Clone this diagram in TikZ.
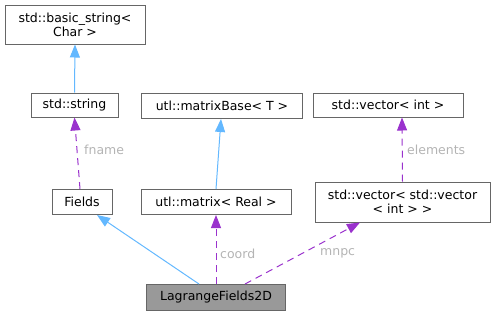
\documentclass[tikz,border=0pt]{standalone}
\usepackage{fontspec}
\setmainfont{DejaVu Sans}
\usetikzlibrary{arrows.meta}
\definecolor{boxborder}{HTML}{666666}
\definecolor{inh}{HTML}{63B8FF}
\definecolor{use}{HTML}{9A32CD}
\definecolor{lbl}{HTML}{B4B4B4}
\definecolor{curfill}{HTML}{999999}
\tikzset{
  cls/.style={draw=boxborder, fill=white, line width=1pt, inner sep=0pt, align=center, font=\fontsize{12.5}{14}\selectfont},
  inhedge/.style={draw=inh, line width=1pt, -{Triangle[length=13pt,width=10pt]}},
  useedge/.style={draw=use, line width=1pt, dash pattern=on 7pt off 5pt, -{Triangle[length=13pt,width=10pt]}},
  elbl/.style={text=lbl, font=\fontsize{12.5}{14}\selectfont, inner sep=1pt}
}
\begin{document}
\begin{tikzpicture}[x=1pt,y=-1pt]
\useasboundingbox (0,0) rectangle (495,316);
\node[cls, minimum width=140pt, minimum height=39pt] (bs) at (75,24.5) {std::basic\_string<\\Char >};
\node[cls, minimum width=87pt, minimum height=24pt] (str) at (74.5,105) {std::string};
\node[cls, minimum width=161pt, minimum height=25pt] (mb) at (222,106) {utl::matrixBase< T >};
\node[cls, minimum width=150pt, minimum height=24pt] (vi) at (388,105) {std::vector< int >};
\node[cls, minimum width=60pt, minimum height=25pt] (fl) at (82,202) {Fields};
\node[cls, minimum width=150pt, minimum height=25pt] (mx) at (216,202) {utl::matrix< Real >};
\node[cls, minimum width=175pt, minimum height=40pt] (vv) at (402.5,202) {std::vector< std::vector\\< int > >};
\node[cls, fill=curfill, minimum width=139pt, minimum height=26pt] (lf) at (216,297.5) {LagrangeFields2D};

\draw[inhedge] (str.north) -- (bs.south);
\draw[useedge] (fl.north -| 80,0) -- (str.south);
\node[elbl, anchor=west] at (83,150) {fname};
\draw[inhedge] (mx.north -| 216,0) -- (mb.south -| 221,0);
\draw[inhedge] (lf.north -| 199,0) -- (fl.south -| 97,0);
\draw[useedge] (lf.north) -- (mx.south);
\node[elbl, anchor=west] at (219,254) {coord};
\draw[useedge] (lf.north -| 245,0) -- (vv.south -| 360,0);
\node[elbl, anchor=west] at (319,253) {mnpc};
\draw[useedge] (vv.north) -- (vi.south -| 402,0);
\node[elbl, anchor=west] at (406,150) {elements};
\end{tikzpicture}
\end{document}
